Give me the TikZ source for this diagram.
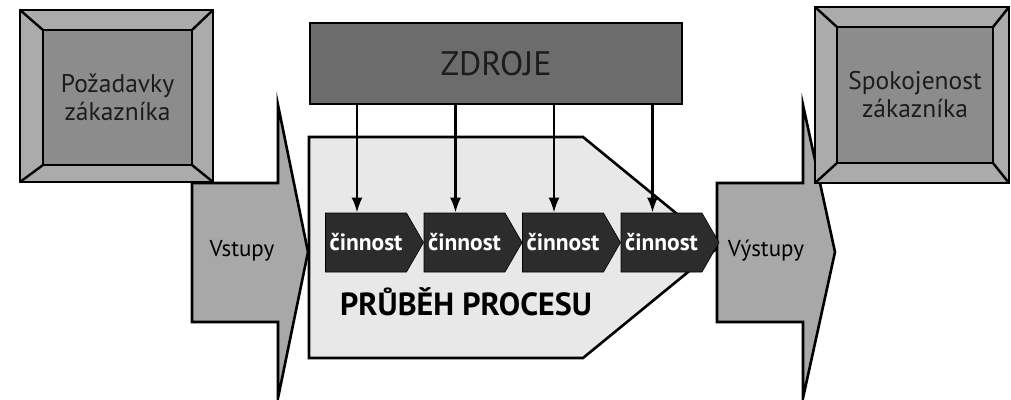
\documentclass[tikz,border=0pt]{standalone}
\usepackage{fontspec}
\setmainfont{PT Sans}
\usetikzlibrary{arrows.meta,shapes.symbols}
\definecolor{framegray}{HTML}{ABABAB}
\definecolor{innergray}{HTML}{8C8C8C}
\definecolor{resgray}{HTML}{6C6C6C}
\definecolor{arrowgray}{HTML}{A8A8A8}
\definecolor{procgray}{HTML}{E8E8E8}
\definecolor{actgray}{HTML}{2C2C2C}
\definecolor{textdark}{HTML}{1C1C1C}
\begin{document}
\begin{tikzpicture}[x=1pt,y=-1pt,
  outerbox/.style={draw=black,line width=2.8pt,fill=framegray,inner sep=0pt,outer sep=0pt},
  innerbox/.style={draw=black,line width=2.4pt,fill=innergray,inner sep=0pt,outer sep=0pt,
    align=center,text=textdark,font=\fontsize{25.5}{28}\selectfont},
  bevel/.style={line width=2.4pt,line cap=round},
  bigarrow/.style={draw=black,line width=2.6pt,fill=arrowgray,line join=miter},
  process/.style={draw=black,line width=2.6pt,fill=procgray,line join=miter},
  resbox/.style={draw=black,line width=2.2pt,fill=resgray,minimum width=372pt,minimum height=81pt,
    inner sep=0pt,text=textdark,font=\fontsize{34}{36}\selectfont},
  actbox/.style={signal,signal to=east,signal from=nowhere,signal pointer angle=120,
    draw=black,line width=0.6pt,fill=actgray,minimum width=98pt,minimum height=59pt,
    inner sep=0pt,text=white,font=\bfseries\fontsize{23.5}{26}\selectfont},
  feed/.style={line width=2.6pt,-{Latex[length=15pt,width=11pt]}},
  arrowlabel/.style={text=black,font=\fontsize{23}{26}\selectfont}
]
\useasboundingbox (0,0) rectangle (1011,399);

% input and output arrows
\draw[bigarrow] (192,183) -- (278,183) -- (278,105) -- (308,252) -- (278,398) -- (278,322) -- (192,322) -- cycle;
\node[arrowlabel] (in) at (242,251) {Vstupy};

% process body
\draw[process] (309,137) -- (583,137) -- (718,247.5) -- (583,358) -- (309,358) -- cycle;
\node[font=\bfseries\fontsize{32}{34}\selectfont,text=black] (flow) at (466,302) {PRŮBĚH PROCESU};

\draw[bigarrow] (717,183) -- (803,183) -- (803,105) -- (835,252) -- (803,398) -- (803,322) -- (717,322) -- cycle;
\node[arrowlabel] (out) at (766,251) {Výstupy};

% customer boxes
\node[outerbox,minimum width=193pt,minimum height=172pt] (reqo) at (116.5,96) {};
\node[innerbox,minimum width=149pt,minimum height=135pt] (req) at (117.5,97.5) {Požadavky\\zákazníka};
\draw[bevel] (reqo.north west) -- (req.north west);
\draw[bevel] (reqo.north east) -- (req.north east);
\draw[bevel] (reqo.south west) -- (req.south west);
\draw[bevel] (reqo.south east) -- (req.south east);

\node[outerbox,minimum width=194pt,minimum height=176pt] (sato) at (912,95) {};
\node[innerbox,minimum width=156pt,minimum height=136pt] (sat) at (915,95) {Spokojenost\\zákazníka};
\draw[bevel] (sato.north west) -- (sat.north west);
\draw[bevel] (sato.north east) -- (sat.north east);
\draw[bevel] (sato.south west) -- (sat.south west);
\draw[bevel] (sato.south east) -- (sat.south east);

% resources
\node[resbox] (res) at (496,63.5) {ZDROJE};

% activities
\node[actbox] (a1) at (366,242.5) {činnost};
\node[actbox] (a2) at (464.5,242.5) {činnost};
\node[actbox] (a3) at (563,242.5) {činnost};
\node[actbox] (a4) at (661.5,242.5) {činnost};

\foreach \a in {a1,a2,a3,a4}
  \draw[feed] ([xshift=-9pt]\a.north |- res.south) -- ([xshift=-9pt]\a.north);
\end{tikzpicture}
\end{document}
